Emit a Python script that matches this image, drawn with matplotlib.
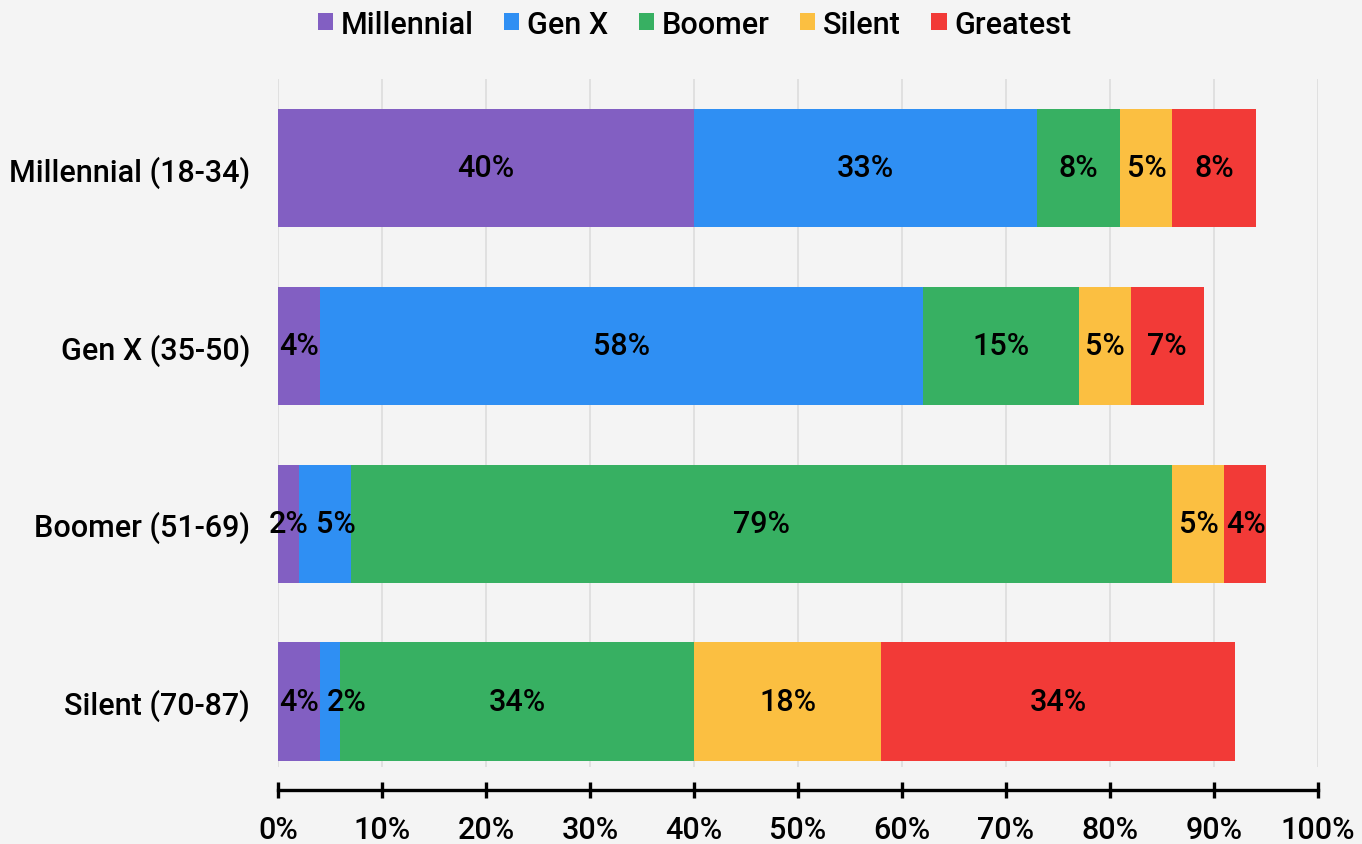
import matplotlib
matplotlib.use("Agg")
import matplotlib.pyplot as plt
import numpy as np

plt.rcParams['font.family'] = ['Roboto', 'DejaVu Sans']

categorias = ['Millennial (18-34)', 'Gen X (35-50)', 'Boomer (51-69)', 'Silent (70-87)']
series = ['Millennial', 'Gen X', 'Boomer', 'Silent', 'Greatest']
millennial = [40, 4, 2, 4]
gen_x = [33, 58, 5, 2]
boomer = [8, 15, 79, 34]
silent = [5, 5, 5, 18]
greatest = [8, 7, 4, 34]
colores = ['#825fc2', '#2f8ff3', '#37b062', '#fbbf41', '#f23a37']
ticks = [0, 10, 20, 30, 40, 50, 60, 70, 80, 90, 100]

fs = 22
fondo = '#f4f4f4'
fig = plt.figure(figsize=(13.62, 8.45), dpi=100, facecolor=fondo)
ax = fig.add_axes([278 / 1362, 1 - 768 / 845, 1040 / 1362, 688 / 845])
ax.set_facecolor(fondo)

# ejes primero (set_position reinicia los ticks)
for lado in ['top', 'right', 'left']:
    ax.spines[lado].set_visible(False)
ax.spines['bottom'].set_position(('outward', 16.5))
ax.spines['bottom'].set_linewidth(2.4)

y = np.arange(len(categorias))
izq = np.zeros(len(categorias))
etiquetas = []
for nombre, valores, color in zip(series, [millennial, gen_x, boomer, silent, greatest], colores):
    barras = ax.barh(y, valores, left=izq, height=0.664, color=color, label=nombre, zorder=2)
    textos = ax.bar_label(barras, labels=[str(v) + '%' for v in valores], label_type='center',
                          fontsize=fs, fontweight='medium', color='black')
    etiquetas.append(textos)
    izq += np.array(valores)

ax.set_xlim(0, 100)
ax.set_ylim(3.368, -0.5)
ax.set_yticks(y)
ax.set_yticklabels(categorias, fontsize=fs, fontweight='medium')
ax.tick_params(axis='y', length=0, pad=20)

ax.set_xticks(ticks)
ax.set_xticklabels([str(t) + '%' for t in ticks], fontsize=fs, fontweight='medium')
ax.tick_params(axis='x', direction='inout', length=12, width=2.4, color='black', pad=12)
ax.grid(axis='x', color='#dddddd', linewidth=1.2, zorder=0)

fig.legend(loc='upper center', bbox_to_anchor=(0.51, 1.02), ncol=5, frameon=False,
           handlelength=0.5, handleheight=0.5, handletextpad=0.25,
           columnspacing=1.0, prop={'weight': 'medium', 'size': fs})

# separar etiquetas que se pisan en la misma fila
fig.canvas.draw()
render = fig.canvas.get_renderer()
for fila in range(len(categorias)):
    previo = None
    for serie in etiquetas:
        t = serie[fila]
        bb = t.get_window_extent(render)
        if previo is not None and bb.x0 < previo.x1 + 8:
            dx = previo.x1 + 8 - bb.x0
            t.xyann = (t.xyann[0] + dx * 72 / fig.dpi, t.xyann[1])
            bb = t.get_window_extent(render)
        previo = bb

plt.savefig('out.png', dpi=100, facecolor=fondo)
